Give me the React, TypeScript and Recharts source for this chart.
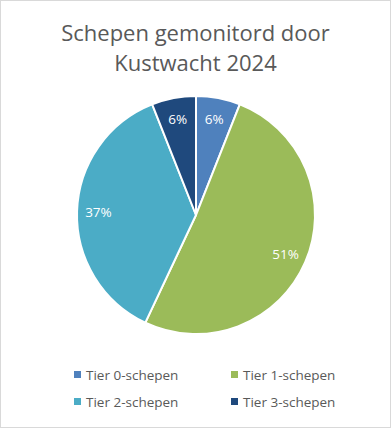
import { Cell, Legend, Pie, PieChart } from "recharts";

const categories = ["Tier 0-schepen", "Tier 1-schepen", "Tier 2-schepen", "Tier 3-schepen"];
const shares = [6, 51, 37, 6];
const colors = ["#4f81bd", "#9bbb59", "#4bacc6", "#1f497d"];

const data = categories.map((name, i) => ({ name, value: shares[i] }));
const total = shares.reduce((a, b) => a + b, 0);

const FONT = "'Open Sans', sans-serif";
const RAD = Math.PI / 180;

function renderLabel({ cx, cy, midAngle, outerRadius, value }: any) {
  const r = outerRadius * 0.82;
  const x = cx + r * Math.cos(-midAngle * RAD);
  const y = cy + r * Math.sin(-midAngle * RAD);
  return (
    <text x={x} y={y} fill="#ffffff" fontSize={13.5} fontFamily={FONT} textAnchor="middle" dominantBaseline="central">
      {Math.round((value / total) * 100)}%
    </text>
  );
}

function LegendGrid() {
  return (
    <div style={{ display: "grid", gridTemplateColumns: "157px 150px", rowGap: 8, fontFamily: FONT, fontSize: 13.5, color: "#595959" }}>
      {categories.map((c, i) => (
        <div key={c} style={{ display: "flex", alignItems: "center", height: 19 }}>
          <span style={{ width: 7, height: 7, background: colors[i], marginRight: 5 }} />
          {c}
        </div>
      ))}
    </div>
  );
}

export default function App() {
  return (
    <div
      style={{
        position: "absolute",
        left: 0,
        top: 0,
        width: 391,
        height: 428,
        boxSizing: "border-box",
        border: "1px solid #d9d9d9",
        background: "#ffffff",
      }}
    >
      <div
        style={{
          position: "absolute",
          top: 16,
          left: 0,
          width: 389,
          textAlign: "center",
          fontFamily: FONT,
          fontSize: 22,
          lineHeight: "30px",
          color: "#595959",
        }}
      >
        Schepen gemonitord door
        <br />
        Kustwacht 2024
      </div>
      <PieChart
        width={389}
        height={426}
        margin={{ top: 0, right: 0, bottom: 0, left: 0 }}
        style={{ position: "absolute", left: 0, top: 0 }}
      >
        <Pie
          data={data}
          dataKey="value"
          nameKey="name"
          cx={195}
          cy={214}
          outerRadius={119}
          startAngle={90}
          endAngle={-270}
          stroke="#ffffff"
          strokeWidth={2}
          label={renderLabel}
          labelLine={false}
          isAnimationActive={false}
        >
          {data.map((d, i) => (
            <Cell key={d.name} fill={colors[i]} />
          ))}
        </Pie>
        <Legend content={<LegendGrid />} wrapperStyle={{ position: "absolute", left: 73, top: 364, width: 320 }} />
      </PieChart>
    </div>
  );
}
